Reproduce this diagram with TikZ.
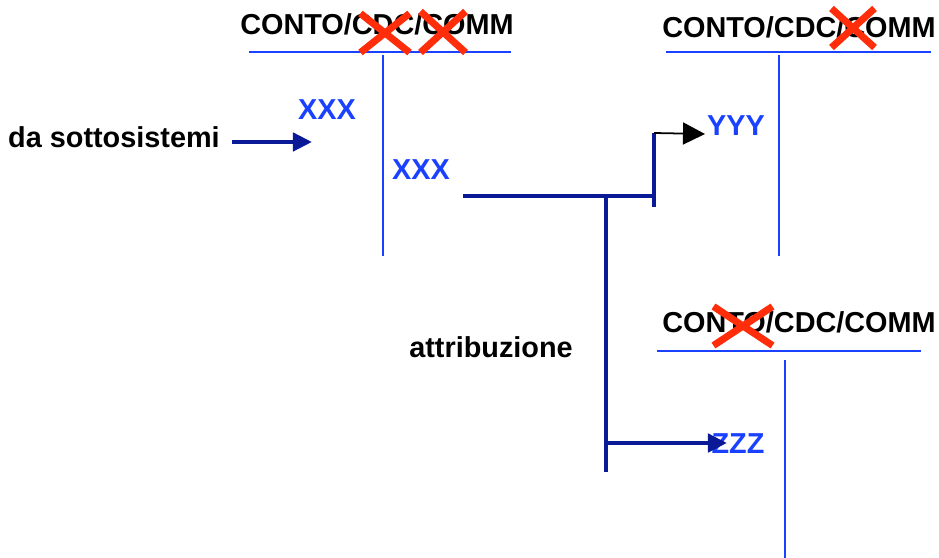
\documentclass[tikz,border=0pt]{standalone}
\usepackage{fontspec}
\setmainfont{Liberation Sans}
\usetikzlibrary{arrows.meta,shapes.misc}

\definecolor{acctblue}{RGB}{25,65,255}
\definecolor{flownavy}{RGB}{10,25,150}
\definecolor{strikered}{RGB}{255,45,10}

\begin{document}
\begin{tikzpicture}[x=0.01cm, y=-0.01cm,
    label/.style={font=\fontsize{8.2}{10}\selectfont\bfseries, inner sep=0pt, anchor=base},
    code/.style={label, text=acctblue},
    tline/.style={acctblue, line width=0.75pt},
    flow/.style={flownavy, line width=1.25pt},
    strike/.style={cross out, draw=strikered, line width=2pt, inner sep=0pt}]
    \useasboundingbox (0,0) rectangle (939,558);

    % Define corners of the three accounts
    \coordinate (aL) at (249,52);  \coordinate (aR) at (511,52);
    \coordinate (aT) at (383,55);  \coordinate (aB) at (383,256);
    \coordinate (bL) at (666,52);  \coordinate (bR) at (931,52);
    \coordinate (bT) at (779,55);  \coordinate (bB) at (779,256);
    \coordinate (cL) at (657,351); \coordinate (cR) at (921,351);
    \coordinate (cT) at (785,360); \coordinate (cB) at (785,558);

    % Draw the T lines
    \draw[tline] (aL) -- (aR);  \draw[tline] (aT) -- (aB);
    \draw[tline] (bL) -- (bR);  \draw[tline] (bT) -- (bB);
    \draw[tline] (cL) -- (cR);  \draw[tline] (cT) -- (cB);

    % Account titles
    \node[label] (ta) at (377,35) {CONTO/CDC/COMM};
    \node[label] (tb) at (799,38) {CONTO/CDC/COMM};
    \node[label] (tc) at (799,333) {CONTO/CDC/COMM};

    % Crossed out parts of the titles
    \node[strike, minimum width=0.42cm, minimum height=0.32cm] (xa1) at (385,33) {};
    \node[strike, minimum width=0.38cm, minimum height=0.34cm] (xa2) at (443,32) {};
    \node[strike, minimum width=0.36cm, minimum height=0.32cm] (xb) at (853,28) {};
    \node[strike, minimum width=0.52cm, minimum height=0.32cm] (xc) at (743,326) {};

    % Labels
    \node[label] (src) at (114,148) {da sottosistemi};
    \node[code] (in1) at (327,120) {XXX};
    \node[code] (in2) at (421,180) {XXX};
    \node[code] (outy) at (736,136) {YYY};
    \node[code] (outz) at (738,454) {ZZZ};
    \node[label] (attr) at (491,358) {attribuzione};

    % Define points of the attribution lines
    \coordinate (s0) at (232,142); \coordinate (s1) at (312,142);
    \coordinate (h0) at (463,196); \coordinate (h1) at (654,196);
    \coordinate (k0) at (654,133); \coordinate (k1) at (654,207);
    \coordinate (v0) at (606,196); \coordinate (v1) at (606,472);
    \coordinate (z0) at (606,443); \coordinate (z1) at (727,443);
    \coordinate (y1) at (705,134);

    % Draw the flow lines and arrows
    \draw[flow, -{Triangle[length=0.19cm, width=0.18cm]}] (s0) -- (s1);
    \draw[flow] (h0) -- (h1);
    \draw[flow] (k0) -- (k1);
    \draw[flow] (v0) -- (v1);
    \draw[flow, -{Triangle[length=0.19cm, width=0.18cm]}] (z0) -- (z1);
    \draw[black, line width=0.5pt, -{Triangle[length=0.22cm, width=0.22cm]}] (k0) -- (y1);

\end{tikzpicture}
\end{document}
